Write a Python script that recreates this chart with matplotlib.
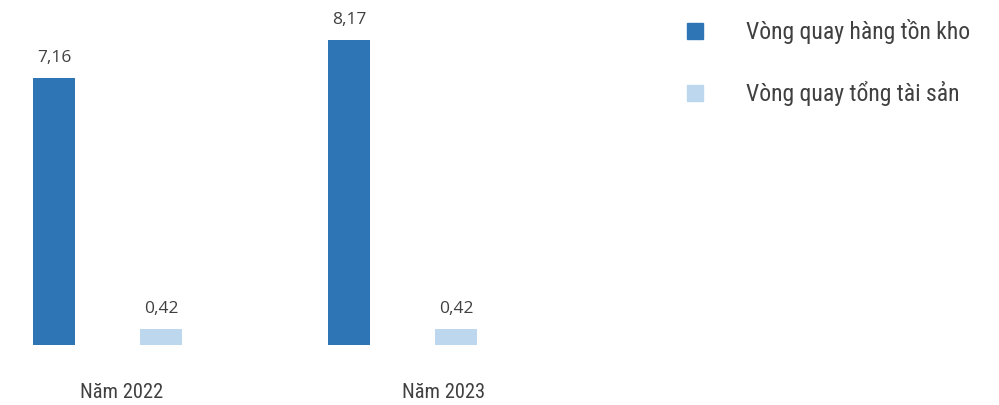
import matplotlib.pyplot as plt
from matplotlib.lines import Line2D
import numpy as np

# Data
years = ['Năm 2022', 'Năm 2023']
series_names = ['Vòng quay hàng tồn kho', 'Vòng quay tổng tài sản']
inventory_turnover = [7.16, 8.17]
asset_turnover = [0.42, 0.42]

dark_blue = '#2E75B6'
light_blue = '#BDD7EE'
text_color = '#404040'
label_font = ['Roboto Condensed', 'Roboto', 'DejaVu Sans']

fig = plt.figure(figsize=(9.99, 4.05), dpi=100)
# axes spans pixel x 0..600, baseline at y=345 px from top
ax = fig.add_axes([0, 60 / 405, 600 / 999, 345 / 405])

x = np.arange(len(years))
w = 42 / 295
off = 53.5 / 295
b1 = ax.bar(x - off, inventory_turnover, width=w, color=dark_blue)
b2 = ax.bar(x + off, asset_turnover, width=w, color=light_blue)

for bars, vals in [(b1, inventory_turnover), (b2, asset_turnover)]:
    for rect, v in zip(bars, vals):
        ax.annotate(f'{v:.2f}'.replace('.', ','),
                    (rect.get_x() + rect.get_width() / 2, v),
                    xytext=(0, 12), textcoords='offset pixels',
                    ha='center', va='bottom', fontsize=12.5,
                    family=['Open Sans', 'DejaVu Sans'], color=text_color)

ax.set_xlim(-107.5 / 295, (600 - 107.5) / 295)
ax.set_ylim(0, 345 / 37.3)
ax.axis('off')

# category labels
label_pos = [(122 - 107.5) / 295, (443.5 - 107.5) / 295]
for xp, lab in zip(label_pos, years):
    ax.text(xp, -47 / 37.3, lab, ha='center', va='center', fontsize=14.8,
            family=label_font, color=text_color)

handles = [Line2D([], [], marker='s', linestyle='none', markersize=11,
                  color=c) for c in (dark_blue, light_blue)]
leg = fig.legend(handles, series_names, loc='upper left',
                 bbox_to_anchor=(674 / 999, 1 - 10 / 405), frameon=False,
                 borderaxespad=0, handlelength=1.0, handletextpad=1.63,
                 labelspacing=1.56,
                 prop={'family': label_font, 'size': 17})
for t in leg.get_texts():
    t.set_color(text_color)

fig.savefig('out.png', dpi=100)
